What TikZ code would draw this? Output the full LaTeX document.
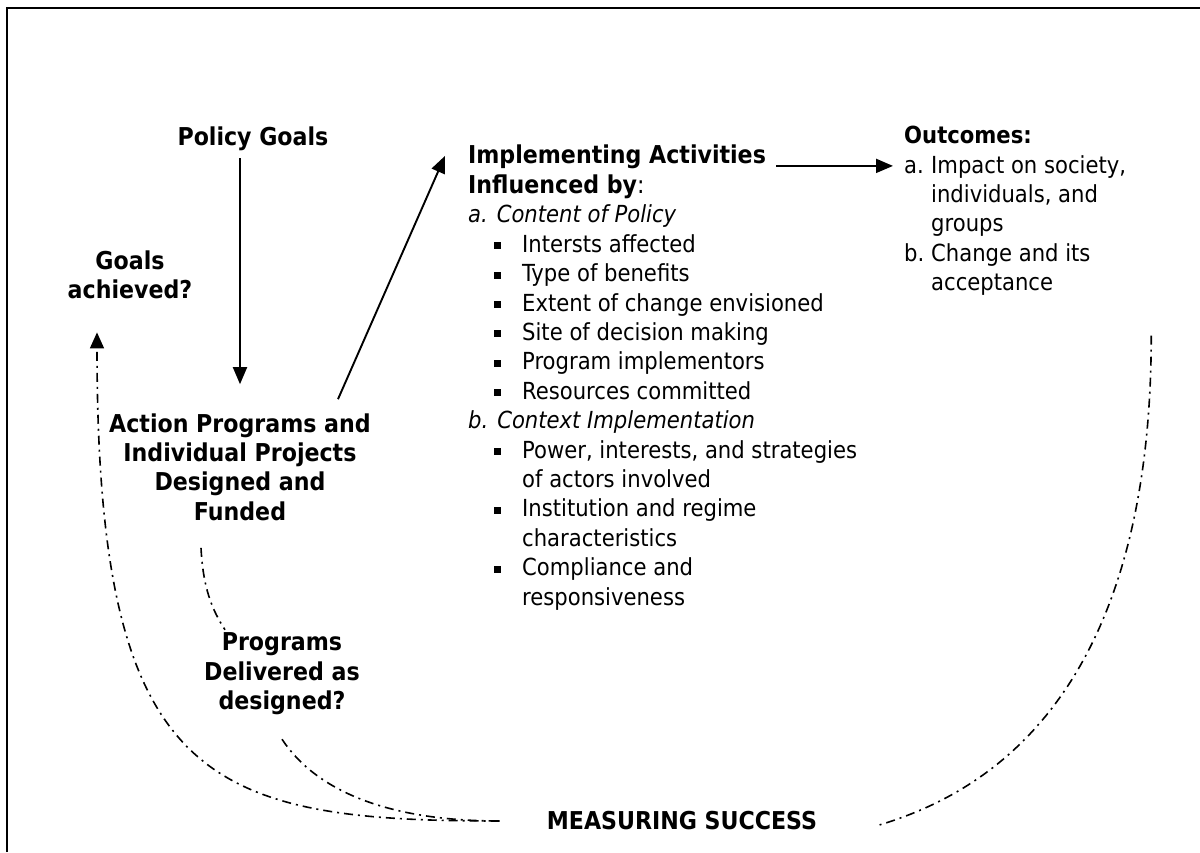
\documentclass[tikz,border=0pt]{standalone}
\usepackage{fontspec}
\setmainfont{DejaVu Sans Condensed}
\usetikzlibrary{positioning}
\usetikzlibrary{arrows.meta}
\newcommand{\blt}{\hspace*{26pt}\rule[3pt]{7pt}{7pt}\hspace*{21pt}}
\newcommand{\bcont}{\hspace*{54pt}}
\tikzset{
        textnode/.style={align=center,inner sep=2pt,font=\fontsize{23.5}{29.4}\selectfont},
        % Bold headings
        node_title/.style={textnode, font=\fontsize{24.6}{29.4}\selectfont\bfseries},
        % Plain lists
        node_list/.style={textnode, align=left, anchor=north west},
        % Solid arrows
        edge_solid/.style={-{Triangle[length=17pt,width=14pt]}, line width=1.9pt},
        % Measuring lines
        edge_measure/.style={line width=1.6pt, dash pattern=on 9pt off 5pt on 2pt off 5pt}
}

\begin{document}
\begin{tikzpicture}[x=1pt, y=-1pt]
            \useasboundingbox (0,0) rectangle (1200,852);
            \draw[line width=2pt] (7,852) -- (7,8) -- (1200,8);

            \node[node_title] (policy) at (253,139) {Policy Goals};
            \node[node_title] (goals) at (130,275) {Goals\\achieved?};
            \node[node_title] (action) at (240,467) {Action Programs and\\Individual Projects\\Designed and\\Funded};
            \node[node_title] (delivered) at (282,674) {Programs\\Delivered as\\designed?};
            \node[node_title] (measuring) at (682,821) {MEASURING SUCCESS};
            \node[node_title, align=left, anchor=north west] (implement) at (466,143) {Implementing Activities\\Influenced by\textmd{:}};
            \node[node_list, below=2pt of implement.south west, anchor=north west] (influences) {
                \textit{a. Content of Policy}\\
                \blt Intersts affected\\
                \blt Type of benefits\\
                \blt Extent of change envisioned\\
                \blt Site of decision making\\
                \blt Program implementors\\
                \blt Resources committed\\
                \textit{b. Context Implementation}\\
                \blt Power, interests, and strategies\\
                \bcont of actors involved\\
                \blt Institution and regime\\
                \bcont characteristics\\
                \blt Compliance and\\
                \bcont responsiveness};
            \node[node_list] (outcomes) at (902,124) {
                \textbf{Outcomes:}\\
                \makebox[27pt][l]{a.}Impact on society,\\
                \hspace*{27pt}individuals, and\\
                \hspace*{27pt}groups\\
                \makebox[27pt][l]{b.}Change and its\\
                \hspace*{27pt}acceptance};

            \draw[edge_solid, shorten <=5pt, shorten >=27pt] (action.north |- policy.south) -- (action.north);
            \draw[edge_solid] ([shift={(-35,-12)}]action.north east) -- ([shift={(-21,-16)}]implement.west);
            \draw[edge_solid, shorten <=8pt, shorten >=9pt] ([yshift=6pt]implement.east) -- ([yshift=6pt]implement.east -| outcomes.west);

            \draw[edge_measure, -{Triangle[length=16pt,width=14pt]}] ([xshift=-45pt]measuring.west) .. controls +(-295,0) and +(0,450) .. ([shift={(-33,31)}]goals.south);
            \draw[edge_measure] ([shift={(-39,25)}]action.south) .. controls +(2,40) and +(-13,-20) .. ([shift={(-57,-1)}]delivered.north);
            \draw[edge_measure] ([shift={(0,22)}]delivered.south) .. controls +(33,50) and +(-115,0) .. ([xshift=-45pt]measuring.west);
            \draw[edge_measure] ([shift={(23,38)}]outcomes.south east) .. controls +(0,365) and +(103,-31) .. ([shift={(60,4)}]measuring.east);
\end{tikzpicture}
\end{document}
